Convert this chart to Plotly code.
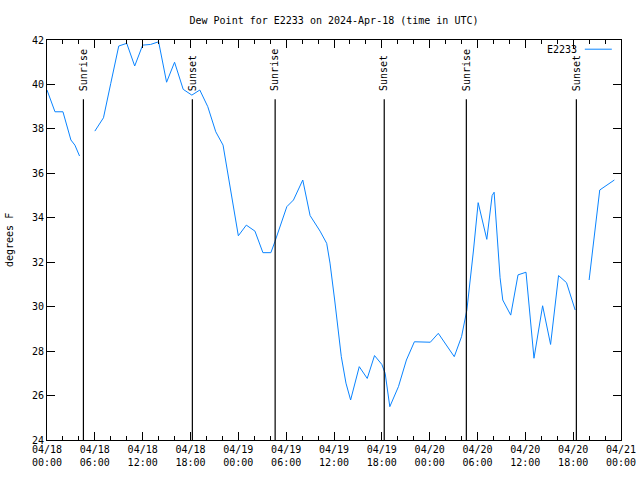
import plotly.graph_objects as go

times = [
    "2024-04-18 00:00", "2024-04-18 01:00", "2024-04-18 02:00", "2024-04-18 03:00", "2024-04-18 03:30",
    "2024-04-18 04:05", "2024-04-18 05:00", "2024-04-18 06:00", "2024-04-18 07:05", "2024-04-18 08:00",
    "2024-04-18 09:00", "2024-04-18 10:00", "2024-04-18 11:00", "2024-04-18 12:00", "2024-04-18 13:00",
    "2024-04-18 14:00", "2024-04-18 15:00", "2024-04-18 16:00", "2024-04-18 17:05", "2024-04-18 18:10",
    "2024-04-18 19:10", "2024-04-18 20:10", "2024-04-18 21:10", "2024-04-18 22:05", "2024-04-18 23:20",
    "2024-04-19 00:00", "2024-04-19 01:00", "2024-04-19 02:05", "2024-04-19 03:05", "2024-04-19 04:05",
    "2024-04-19 04:35", "2024-04-19 06:05", "2024-04-19 06:55", "2024-04-19 08:05", "2024-04-19 09:00",
    "2024-04-19 09:35", "2024-04-19 10:15", "2024-04-19 11:05", "2024-04-19 11:30", "2024-04-19 12:05",
    "2024-04-19 12:55", "2024-04-19 13:30", "2024-04-19 14:05", "2024-04-19 15:10", "2024-04-19 16:10",
    "2024-04-19 17:05", "2024-04-19 18:00", "2024-04-19 18:25", "2024-04-19 19:00", "2024-04-19 20:05",
    "2024-04-19 21:05", "2024-04-19 22:05", "2024-04-19 23:35", "2024-04-20 00:05", "2024-04-20 01:05",
    "2024-04-20 03:05", "2024-04-20 04:00", "2024-04-20 04:40", "2024-04-20 05:30", "2024-04-20 06:05",
    "2024-04-20 07:10", "2024-04-20 07:50", "2024-04-20 08:05", "2024-04-20 08:50", "2024-04-20 09:10",
    "2024-04-20 10:10", "2024-04-20 11:05", "2024-04-20 12:05", "2024-04-20 13:05", "2024-04-20 14:10",
    "2024-04-20 15:10", "2024-04-20 16:10", "2024-04-20 17:10", "2024-04-20 18:15", "2024-04-20 19:00",
    "2024-04-20 20:00", "2024-04-20 21:20", "2024-04-20 23:10",
]
dew_point = [
    39.75, 38.77, 38.77, 37.5, 37.27,
    36.78, None, 37.9, 38.5, 40.05,
    41.73, 41.85, 40.83, 41.77, 41.8,
    41.92, 40.1, 41.0, 39.78, 39.52,
    39.75, 39.0, 37.87, 37.27, 34.65,
    33.19, 33.67, 33.4, 32.43, 32.43,
    32.92, 34.5, 34.8, 35.7, 34.1,
    33.76, 33.4, 32.85, 31.96, 30.3,
    27.75, 26.56, 25.8, 27.3, 26.77,
    27.8, 27.4, 27.0, 25.5, 26.4,
    27.6, 28.42, 28.42, 28.4, 28.8,
    27.75, 28.65, 29.85, 32.55, 34.68,
    33.03, 35.0, 35.15, 31.3, 30.3,
    29.62, 31.43, 31.55, 27.68, 30.04,
    28.3, 31.4, 31.08, 29.85, None,
    31.2, 35.25, 35.7,
]

sun_times = ["2024-04-18 04:34", "2024-04-18 18:14", "2024-04-19 04:37",
             "2024-04-19 18:18", "2024-04-20 04:36", "2024-04-20 18:24"]
sun_labels = ["Sunrise", "Sunset", "Sunrise", "Sunset", "Sunrise", "Sunset"]

tick_vals = ["2024-04-18 00:00", "2024-04-18 06:00", "2024-04-18 12:00", "2024-04-18 18:00",
             "2024-04-19 00:00", "2024-04-19 06:00", "2024-04-19 12:00", "2024-04-19 18:00",
             "2024-04-20 00:00", "2024-04-20 06:00", "2024-04-20 12:00", "2024-04-20 18:00",
             "2024-04-21 00:00"]
tick_text = ["04/18<br>00:00", "04/18<br>06:00", "04/18<br>12:00", "04/18<br>18:00",
             "04/19<br>00:00", "04/19<br>06:00", "04/19<br>12:00", "04/19<br>18:00",
             "04/20<br>00:00", "04/20<br>06:00", "04/20<br>12:00", "04/20<br>18:00",
             "04/21<br>00:00"]

FONT = "DejaVu Sans Mono"
LINE_COLOR = "#0a84ff"

fig = go.Figure()
fig.add_trace(go.Scatter(x=times, y=dew_point, mode="lines", name="E2233",
                         line=dict(color=LINE_COLOR, width=1), connectgaps=False,
                         showlegend=False))

for t, lab in zip(sun_times, sun_labels):
    fig.add_shape(type="line", xref="x", yref="paper", x0=t, x1=t, y0=0, y1=0.852,
                  line=dict(color="black", width=1.2))
    fig.add_annotation(x=t, xref="x", y=0.868, yref="paper", text=lab, textangle=-90,
                       showarrow=False, xanchor="center", yanchor="bottom",
                       font=dict(family=FONT, size=10, color="black"))

# legend (gnuplot style: text then sample line)
fig.add_annotation(x=0.927, y=0.977, xref="paper", yref="paper", text="E2233",
                   showarrow=False, xanchor="right", yanchor="middle",
                   font=dict(family=FONT, size=10, color="black"))
fig.add_shape(type="line", xref="paper", yref="paper", x0=0.937, x1=0.984, y0=0.977, y1=0.977,
              line=dict(color=LINE_COLOR, width=1))

# y axis title placed like gnuplot
fig.add_annotation(x=-38 / 574, y=0.5, xref="paper", yref="paper", text="degrees F",
                   textangle=-90, showarrow=False, xanchor="center", yanchor="middle",
                   font=dict(family=FONT, size=10, color="black"))

fig.update_layout(
    width=640, height=480,
    margin=dict(l=47, r=19, t=40, b=40, autoexpand=False),
    paper_bgcolor="white", plot_bgcolor="white",
    font=dict(family=FONT, size=10, color="black"),
    title=dict(text="Dew Point for E2233 on 2024-Apr-18 (time in UTC)", x=0.5, xref="paper",
               xanchor="center", y=1 - 20 / 480, yanchor="middle", font=dict(family=FONT, size=10)),
    showlegend=False,
)
fig.update_xaxes(
    range=["2024-04-18 00:00", "2024-04-21 00:00"],
    tickmode="array", tickvals=tick_vals, ticktext=tick_text,
    ticks="inside", ticklen=8, tickwidth=1, tickcolor="black",
    minor=dict(ticks="inside", ticklen=4, dtick=2 * 3600 * 1000, tickcolor="black", showgrid=False),
    showline=True, linecolor="black", linewidth=1, mirror="ticks",
    showgrid=False, zeroline=False, automargin=False,
    tickfont=dict(family=FONT, size=10),
)
fig.update_yaxes(
    range=[24, 42], tickmode="linear", tick0=24, dtick=2,
    ticks="inside", ticklen=8, tickwidth=1, tickcolor="black",
    showline=True, linecolor="black", linewidth=1, mirror="ticks",
    showgrid=False, zeroline=False, automargin=False,
    tickfont=dict(family=FONT, size=10),
)

fig.write_html("out.html")
